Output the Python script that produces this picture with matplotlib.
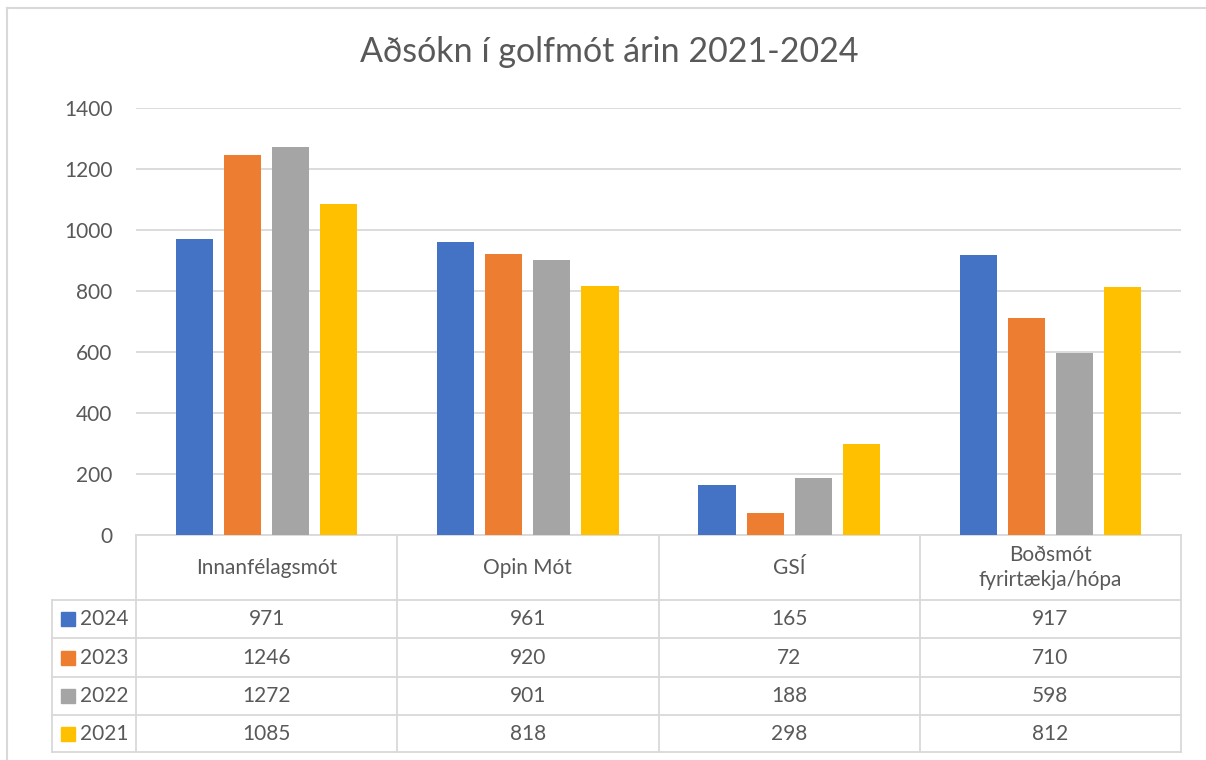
import matplotlib
matplotlib.use('Agg')
import numpy as np
import matplotlib.pyplot as plt
from matplotlib.patches import Rectangle

# Data
categories = ['Innanfélagsmót', 'Opin Mót', 'GSÍ', 'Boðsmót\nfyrirtækja/hópa']
years      = ['2024', '2023', '2022', '2021']
v2024 = [971, 961, 165, 917]
v2023 = [1246, 920, 72, 710]
v2022 = [1272, 901, 188, 598]
v2021 = [1085, 818, 298, 812]
series = [v2024, v2023, v2022, v2021]
colors = ['#4472C4', '#ED7D31', '#A5A5A5', '#FFC000']
title = 'Aðsókn í golfmót árin 2021-2024'

plt.rcParams['font.family'] = ['Lato', 'DejaVu Sans']
txt_col  = '#595959'
line_col = '#d9d9d9'
fs = 15

W, H = 1206, 760
fig = plt.figure(figsize=(W / 100, H / 100), dpi=100)

# plot area in pixels
x0, x1 = 136, 1181
y_top, y_bot = 108, 535
ax = fig.add_axes([x0 / W, 1 - y_bot / H, (x1 - x0) / W, (y_bot - y_top) / H])

n = len(categories)
x = np.arange(n)
bw   = 0.142
step = 0.184
for i, (vals, c) in enumerate(zip(series, colors)):
    ax.bar(x + (i - 1.5) * step, vals, width=bw, color=c, zorder=3)

ax.set_xlim(-0.5, n - 0.5)
ax.set_ylim(0, 1400)
ax.set_yticks(range(0, 1401, 200))
ax.grid(axis='y', color=line_col, lw=1.3, zorder=0)
ax.set_xticks([])
ax.tick_params(axis='y', length=0, pad=17, labelsize=fs, labelcolor=txt_col)
for s in ['top', 'right', 'left']:
    ax.spines[s].set_visible(False)
ax.spines['bottom'].set_color(line_col)
ax.spines['bottom'].set_linewidth(1.3)

# overlay in pixel coordinates for the data table and frame
ov = fig.add_axes([0, 0, 1, 1], zorder=5)
ov.set_xlim(0, W)
ov.set_ylim(H, 0)
ov.axis('off')
ov.patch.set_alpha(0)

# chart frame
ov.plot([7, W], [8, 8], color=line_col, lw=1.5)
ov.plot([7, 7], [8, H], color=line_col, lw=1.5)

fig.text(609 / W, 1 - 52 / H, title, ha='center', va='center',
         fontsize=24.5, color=txt_col)

col_edges = np.linspace(x0, x1, n + 1)
row_edges = [600, 638, 677, 715, 752]
leg_left = 52

lw = 1.3
# vertical lines
for xe in col_edges:
    ov.plot([xe, xe], [y_bot, row_edges[-1]], color=line_col, lw=lw)
ov.plot([leg_left, leg_left], [row_edges[0], row_edges[-1]], color=line_col, lw=lw)
# horizontal lines
for ye in row_edges:
    ov.plot([leg_left, x1], [ye, ye], color=line_col, lw=lw)

# header
for j, cat in enumerate(categories):
    cx = (col_edges[j] + col_edges[j + 1]) / 2
    ov.text(cx, (y_bot + row_edges[0]) / 2, cat, ha='center', va='center',
            fontsize=fs, color=txt_col, linespacing=1.35)

# rows
for i, (yr, vals, c) in enumerate(zip(years, series, colors)):
    cy = (row_edges[i] + row_edges[i + 1]) / 2
    ov.add_patch(Rectangle((61, cy - 7), 14, 14, color=c))
    ov.text(80, cy, yr, ha='left', va='center', fontsize=fs, color=txt_col)
    for j, v in enumerate(vals):
        cx = (col_edges[j] + col_edges[j + 1]) / 2
        ov.text(cx, cy, str(v), ha='center', va='center', fontsize=fs, color=txt_col)

fig.savefig('out.png', dpi=100, facecolor='white')
